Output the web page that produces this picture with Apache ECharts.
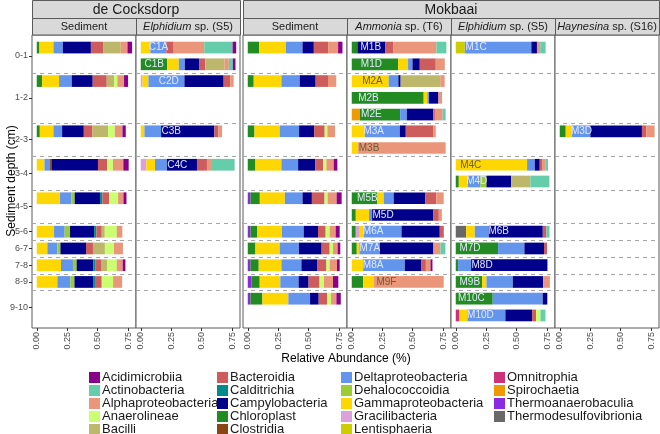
<!DOCTYPE html>
<html>
<head>
<meta charset="utf-8">
<title>Relative abundance by sediment depth</title>
<script src="https://cdn.jsdelivr.net/npm/echarts@6/dist/echarts.min.js"></script>
<style>
  body { margin: 0; background: #ffffff; }
  #chart { width: 660px; height: 434px; }
</style>
</head>
<body>
<div id="chart"></div>
<script>
// taxa in stacking order (left to right in every bar)
var taxa = ['Thermodesulfovibrionia', 'Thermoanaerobaculia', 'Spirochaetia', 'Omnitrophia', 'Lentisphaeria',
  'Chloroplast', 'Gracilibacteria', 'Gammaproteobacteria', 'Deltaproteobacteria', 'Dehalococcoidia',
  'Clostridia', 'Campylobacteria', 'Calditrichia', 'Bacteroidia', 'Bacilli', 'Anaerolineae',
  'Alphaproteobacteria', 'Actinobacteria', 'Acidimicrobiia'];
var codes = ['Tds', 'Tab', 'Spi', 'Omn', 'Len', 'Chl', 'Gra', 'Gam', 'Del', 'Deh',
  'Clo', 'Cam', 'Cal', 'Bac', 'Bcl', 'Ana', 'Alp', 'Act', 'Aci'];
var colors = ['#696969', '#8a2be2', '#ee9a00', '#cd3278', '#cdcd00', '#228b22', '#dda0dd', '#ffd700',
  '#6495ed', '#9acd32', '#8b4513', '#00008b', '#008b8b', '#cd5c5c', '#bdb76b', '#caff70',
  '#e9967a', '#66cdaa', '#8b008b'];

// legend columns (alphabetical, as in the figure)
var legendCols = [
  ['Acidimicrobiia', 'Actinobacteria', 'Alphaproteobacteria', 'Anaerolineae', 'Bacilli'],
  ['Bacteroidia', 'Calditrichia', 'Campylobacteria', 'Chloroplast', 'Clostridia'],
  ['Deltaproteobacteria', 'Dehalococcoidia', 'Gammaproteobacteria', 'Gracilibacteria', 'Lentisphaeria'],
  ['Omnitrophia', 'Spirochaetia', 'Thermoanaerobaculia', 'Thermodesulfovibrionia']
];

// depth groups on the y axis (rows are slots 0..16)
var depths = ['0-1', '1-2', '2-3', '3-4', '4-5', '5-6', '6-7', '7-8', '8-9', '9-10'];
var depthCentre = [0.5, 3, 5.5, 7.5, 9.5, 11, 12, 13, 14, 15.5];
var depthBreaks = [1.5, 4.5, 6.5, 8.5, 10.5, 11.5, 12.5, 13.5, 14.5];

var sites = ['de Cocksdorp', 'Mokbaai'];
var panelGenus = ['', 'Elphidium', '', 'Ammonia', 'Elphidium', 'Haynesina'];
var panelRest = ['Sediment', ' sp. (S5)', 'Sediment', ' sp. (T6)', ' sp. (S5)', ' sp. (S16)'];
var xTicks = [0, 0.25, 0.5, 0.75];

// bars: [panel, slot, relative abundance per taxon]
var bars = [
  [0, 0, {Chl: .022, Gam: .115, Del: .077, Cam: .23, Bac: .10, Bcl: .145, Alp: .055, Aci: .038}],
  [0, 2, {Chl: .044, Gam: .139, Del: .104, Cam: .172, Bac: .115, Bcl: .06, Ana: .027, Alp: .055, Aci: .033}],
  [0, 5, {Chl: .025, Gam: .112, Del: .071, Cam: .178, Bac: .071, Bcl: .128, Ana: .055, Alp: .063, Aci: .027}],
  [0, 7, {Gam: .063, Del: .046, Clo: .016, Cam: .377, Bac: .077, Ana: .046, Alp: .085, Aci: .044}],
  [0, 9, {Gam: .191, Del: .093, Deh: .027, Cam: .208, Cal: .019, Bac: .055, Ana: .074, Alp: .044, Aci: .025}],
  [0, 11, {Gam: .142, Del: .087, Deh: .044, Cam: .197, Cal: .019, Bac: .044, Bcl: .025, Ana: .098, Alp: .046}],
  [0, 12, {Gam: .087, Del: .082, Deh: .025, Cam: .21, Bac: .057, Bcl: .098, Ana: .074, Alp: .074}],
  [0, 13, {Gam: .199, Del: .098, Deh: .03, Cam: .137, Cal: .019, Bac: .044, Bcl: .052, Ana: .077, Alp: .049, Aci: .022}],
  [0, 14, {Gam: .169, Del: .107, Deh: .033, Cam: .153, Cal: .016, Bac: .055, Ana: .093, Alp: .074}],

  [1, 0, {Gam: .079, Del: .131, Bac: .06, Alp: .251, Act: .232, Aci: .03}],
  [1, 1, {Chl: .216, Gam: .096, Del: .049, Cam: .117, Bac: .052, Bcl: .156, Alp: .036, Act: .033, Aci: .022}],
  [1, 2, {Gra: .014, Gam: .049, Del: .295, Cam: .322, Bac: .055, Alp: .027}],
  [1, 5, {Gam: .03, Del: .137, Cam: .437, Bac: .033, Alp: .03}],
  [1, 7, {Gra: .046, Gam: .071, Del: .098, Cam: .246, Bac: .082, Alp: .041, Act: .186}],

  [2, 0, {Chl: .093, Gam: .219, Del: .137, Cam: .093, Bac: .117, Alp: .082, Aci: .036}],
  [2, 2, {Chl: .049, Gam: .227, Del: .15, Cam: .131, Bac: .101, Alp: .068}],
  [2, 5, {Chl: .055, Gam: .208, Del: .158, Cam: .123, Bac: .087, Ana: .022, Alp: .063}],
  [2, 7, {Chl: .063, Gam: .213, Del: .137, Cam: .142, Bac: .063, Ana: .027, Alp: .06, Aci: .03}],
  [2, 9, {Tab: .022, Chl: .077, Gam: .205, Del: .145, Cam: .077, Bac: .104, Ana: .025, Alp: .074, Aci: .041}],
  [2, 11, {Tab: .022, Chl: .057, Gam: .202, Del: .178, Cam: .117, Bac: .063, Ana: .033, Alp: .049, Aci: .033}],
  [2, 12, {Chl: .063, Gam: .199, Del: .158, Cam: .186, Bac: .066, Ana: .027, Alp: .038, Aci: .022}],
  [2, 13, {Tab: .022, Chl: .068, Gam: .186, Del: .164, Cam: .128, Bac: .077, Ana: .027, Alp: .06, Aci: .022}],
  [2, 14, {Tab: .03, Chl: .068, Gam: .169, Del: .15, Cam: .082, Bac: .09, Ana: .036, Alp: .074, Aci: .044}],
  [2, 15, {Tab: .022, Chl: .098, Gam: .213, Del: .178, Cam: .071, Bac: .068, Ana: .033, Alp: .044, Aci: .036}],

  [3, 0, {Chl: .046, Cam: .23, Bac: .063, Alp: .355, Act: .082}],
  [3, 1, {Chl: .38, Gam: .082, Del: .036, Cam: .06, Bac: .131, Alp: .074}],
  [3, 2, {Gam: .303, Del: .079, Cam: .019, Bcl: .325, Alp: .036}],
  [3, 3, {Chl: .59, Gam: .03, Del: .014, Cam: .077, Alp: .03}],
  [3, 4, {Spi: .066, Chl: .331, Del: .055, Cam: .216, Bac: .014, Alp: .063, Act: .025}],
  [3, 5, {Gam: .107, Del: .287, Cam: .049, Bac: .224, Alp: .022}],
  [3, 6, {Gam: .052, Alp: .718}],
  [3, 9, {Chl: .21, Gam: .052, Del: .082, Cam: .26, Bac: .09, Alp: .06}],
  [3, 10, {Chl: .033, Gam: .109, Del: .025, Cam: .503, Bac: .044, Alp: .025}],
  [3, 11, {Chl: .033, Gra: .033, Gam: .033, Del: .309, Cam: .314, Bac: .033}],
  [3, 12, {Chl: .041, Gam: .022, Del: .167, Cam: .44, Alp: .057, Act: .041}],
  [3, 13, {Gam: .093, Del: .342, Cam: .137, Bac: .036, Alp: .038, Aci: .016}],
  [3, 14, {Chl: .093, Gam: .09, Alp: .571}],

  [4, 0, {Len: .074, Del: .546, Cam: .046, Alp: .027, Act: .044}],
  [4, 7, {Gam: .585, Del: .063, Cam: .041, Bac: .019, Alp: .027, Act: .022}],
  [4, 8, {Chl: .025, Gam: .074, Del: .104, Deh: .049, Cam: .202, Bcl: .158, Act: .156}],
  [4, 11, {Tds: .085, Gam: .071, Del: .115, Cam: .443, Bac: .03, Act: .025}],
  [4, 12, {Chl: .347, Del: .216, Cam: .161, Bac: .025}],
  [4, 13, {Chl: .019, Del: .107, Cam: .626}],
  [4, 14, {Chl: .216, Gam: .036, Del: .216, Cam: .249, Alp: .055}],
  [4, 15, {Chl: .303, Del: .41, Cam: .038}],
  [4, 16, {Omn: .03, Gam: .066, Del: .311, Cam: .219, Bac: .033, Ana: .036, Act: .041}],

  [5, 5, {Chl: .049, Gam: .052, Del: .15, Cam: .423, Bac: .036, Alp: .068}]
];

// sample names written on the bars: [panel, slot, name, x]
var sampleLabels = [
  [1, 0, 'C1A', 0.145], [1, 1, 'C1B', 0.11], [1, 2, 'C2D', 0.23], [1, 5, 'C3B', 0.25], [1, 7, 'C4C', 0.30],
  [3, 0, 'M1B', 0.156], [3, 1, 'M1D', 0.161], [3, 2, 'M2A', 0.17], [3, 3, 'M2B', 0.137], [3, 4, 'M2E', 0.161],
  [3, 5, 'M3A', 0.18], [3, 6, 'M3B', 0.142], [3, 9, 'M5B', 0.128], [3, 10, 'M5D', 0.257], [3, 11, 'M6A', 0.175],
  [3, 12, 'M7A', 0.148], [3, 13, 'M8A', 0.175], [3, 14, 'M9F', 0.284],
  [4, 0, 'M1C', 0.167], [4, 7, 'M4C', 0.123], [4, 8, 'M4D', 0.172], [4, 11, 'M6B', 0.352], [4, 12, 'M7D', 0.117],
  [4, 13, 'M8D', 0.216], [4, 14, 'M9B', 0.115], [4, 15, 'M10C', 0.128], [4, 16, 'M10D', 0.202],
  [5, 5, 'M3D', 0.178]
];

var FONT = '"Liberation Sans", Arial, sans-serif';
var gridLeft = [32, 136, 243, 347, 451, 555];
var gridW = 104, gridTop = 35, gridH = 293;

function isLight(hex) {
  var r = parseInt(hex.substr(1, 2), 16), g = parseInt(hex.substr(3, 2), 16), b = parseInt(hex.substr(5, 2), 16);
  return (0.299 * r + 0.587 * g + 0.114 * b) / 255 > 0.6;
}

function segmentColourAt(panel, slot, x) {
  for (var i = 0; i < bars.length; i++) {
    if (bars[i][0] !== panel || bars[i][1] !== slot) continue;
    var acc = 0;
    for (var t = 0; t < codes.length; t++) {
      acc += bars[i][2][codes[t]] || 0;
      if (x < acc) return colors[t];
    }
  }
  return '#ffffff';
}

function renderSegment(params, api) {
  var a = api.coord([api.value(0), api.value(2)]);
  var b = api.coord([api.value(1), api.value(2)]);
  var h = api.size([0, 0.7])[1];
  return {
    type: 'rect',
    shape: { x: a[0], y: a[1] - h / 2, width: b[0] - a[0], height: h },
    style: { fill: api.visual('color') }
  };
}

var grids = [], xAxes = [], yAxes = [], series = [], graphics = [];

gridLeft.forEach(function (left, p) {
  grids.push({ left: left, top: gridTop, width: gridW, height: gridH, show: true,
    backgroundColor: '#ffffff', borderColor: '#5a5a5a', borderWidth: 1 });
  xAxes.push({
    type: 'value', gridIndex: p, min: -0.039, max: 0.814,
    axisLine: { show: false, onZero: false }, splitLine: { show: false },
    axisTick: { show: true, customValues: xTicks, length: 3, lineStyle: { color: '#333333' } },
    axisLabel: { show: true, customValues: xTicks, rotate: 90, fontSize: 9, color: '#4d4d4d', margin: 4,
      fontFamily: FONT, formatter: function (v) { return v.toFixed(2); } }
  });
  var y = {
    type: 'value', gridIndex: p, inverse: true, min: -0.75, max: 16.75,
    axisLine: { show: false, onZero: false }, splitLine: { show: false },
    axisTick: { show: false }, axisLabel: { show: false }
  };
  if (p === 0) {
    y.axisTick = { show: true, customValues: depthCentre, length: 3, lineStyle: { color: '#333333' } };
    y.axisLabel = { show: true, customValues: depthCentre, fontSize: 9, color: '#4d4d4d', margin: 4, fontFamily: FONT,
      formatter: function (v) { var i = depthCentre.indexOf(v); return i < 0 ? '' : depths[i]; } };
  }
  yAxes.push(y);

  // dashed separators between depth groups
  series.push({
    type: 'custom', xAxisIndex: p, yAxisIndex: p, silent: true, z: 1,
    data: depthBreaks.map(function (v) { return [0, v]; }),
    encode: { x: 0, y: 1 },
    renderItem: function (params, api) {
      var yy = Math.round(api.coord([0, api.value(1)])[1]) + 0.5;
      var cs = params.coordSys;
      return { type: 'line', shape: { x1: cs.x, y1: yy, x2: cs.x + cs.width, y2: yy },
        style: { stroke: '#a6a6a6', lineWidth: 1, lineDash: [4, 4] } };
    }
  });

  taxa.forEach(function (name, t) {
    var data = [];
    bars.forEach(function (b) {
      if (b[0] !== p || !b[2][codes[t]]) return;
      var start = 0;
      for (var k = 0; k < t; k++) start += b[2][codes[k]] || 0;
      data.push([start, start + b[2][codes[t]], b[1]]);
    });
    series.push({
      type: 'custom', name: name, xAxisIndex: p, yAxisIndex: p, z: 2,
      itemStyle: { color: colors[t] },
      dimensions: ['start', 'end', 'slot'],
      encode: { x: [0, 1], y: 2 },
      data: data,
      renderItem: renderSegment
    });
  });

  var labs = sampleLabels.filter(function (l) { return l[0] === p; });
  if (labs.length) {
    series.push({
      type: 'custom', xAxisIndex: p, yAxisIndex: p, z: 3, silent: true,
      data: labs.map(function (l) { return [l[3], l[1]]; }),
      encode: { x: 0, y: 1 },
      renderItem: function (params, api) {
        var l = labs[params.dataIndex];
        var pt = api.coord([api.value(0), api.value(1)]);
        var bg = segmentColourAt(l[0], l[1], l[3]);
        return { type: 'text', x: pt[0], y: pt[1],
          style: { text: l[2], fill: isLight(bg) ? '#6b5d33' : '#e4e8ff', fontSize: 10, fontFamily: FONT,
            align: 'center', verticalAlign: 'middle' } };
      }
    });
  }

  // facet strip for the panel
  graphics.push({
    type: 'rect', shape: { x: left + 0.5, y: 18.5, width: gridW, height: 16.5 },
    style: { fill: '#d9d9d9', stroke: '#5a5a5a', lineWidth: 1 }
  });
  graphics.push({
    type: 'text', x: left + gridW / 2, y: 27,
    style: {
      text: panelGenus[p] ? '{i|' + panelGenus[p] + '}' + panelRest[p] : panelRest[p],
      rich: { i: { fontStyle: 'italic', fontSize: 11, fontFamily: FONT, fill: '#1a1a1a' } },
      fontSize: 11, fontFamily: FONT, fill: '#1a1a1a', align: 'center', verticalAlign: 'middle'
    }
  });
});

// site strips on top
[[32, 208], [243, 416]].forEach(function (s, i) {
  graphics.push({
    type: 'rect', shape: { x: s[0] + 0.5, y: 0.5, width: s[1], height: 18 },
    style: { fill: '#d9d9d9', stroke: '#5a5a5a', lineWidth: 1 }
  });
  graphics.push({
    type: 'text', x: s[0] + s[1] / 2, y: 10,
    style: { text: sites[i], fontSize: 14, fontFamily: FONT, fill: '#1a1a1a', align: 'center', verticalAlign: 'middle' }
  });
});

// axis titles
graphics.push({
  type: 'text', x: 346, y: 359,
  style: { text: 'Relative Abundance (%)', fontSize: 12, fontFamily: FONT, fill: '#000000',
    align: 'center', verticalAlign: 'middle' }
});
graphics.push({
  type: 'text', x: 12, y: 181, rotation: Math.PI / 2,
  style: { text: 'Sediment depth (cm)', fontSize: 12, fontFamily: FONT, fill: '#000000',
    align: 'center', verticalAlign: 'middle' }
});

var legendLeft = [89, 217, 341, 494];
var legends = legendCols.map(function (names, i) {
  return {
    orient: 'vertical', left: legendLeft[i], top: 371, height: 90, padding: 0,
    itemWidth: 11, itemHeight: 11, itemGap: 0, icon: 'rect', selectedMode: false,
    data: names,
    textStyle: { fontSize: 13, lineHeight: 13, color: '#1a1a1a', fontFamily: FONT, padding: [0, 0, 0, -3] }
  };
});

var myChart = echarts.init(document.getElementById('chart'));
myChart.setOption({
  animation: false,
  textStyle: { fontFamily: FONT },
  grid: grids,
  xAxis: xAxes,
  yAxis: yAxes,
  legend: legends,
  graphic: graphics,
  series: series
});
</script>
</body>
</html>
